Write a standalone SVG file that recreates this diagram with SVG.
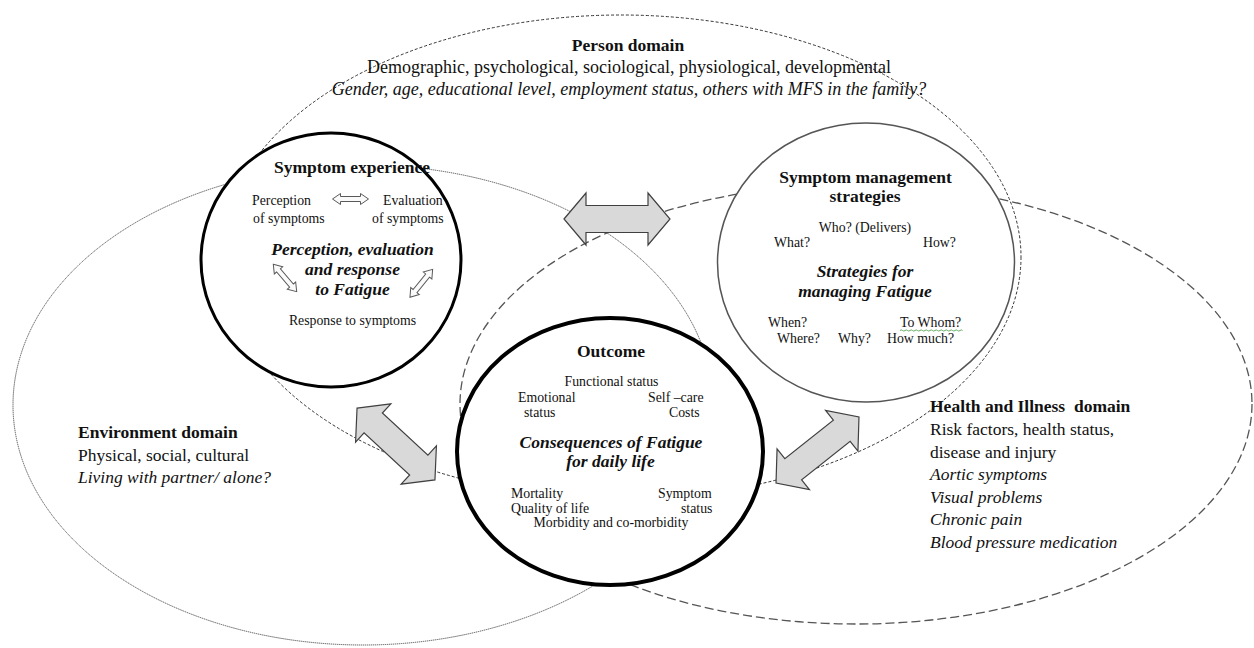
<svg xmlns="http://www.w3.org/2000/svg" width="1254" height="648" viewBox="0 0 1254 648">
<style>
text { font-family: "Liberation Serif", "Times New Roman", serif; fill: #111; }
.t { font-size: 17.5px; font-weight: bold; }
.bi { font-size: 17.5px; font-weight: bold; font-style: italic; }
.s { font-size: 13.8px; }
.d { font-size: 17.5px; }
.di { font-size: 17.5px; font-style: italic; }
.p { font-size: 18px; }
.pi { font-size: 18px; font-style: italic; }
.m { text-anchor: middle; }
.dom { fill: none; }
.big { fill: #d9d9d9; stroke: #404040; stroke-width: 1.2; }
.small { fill: #fafafa; stroke: #5a5a5a; stroke-width: 1; }
</style>
<defs>
<polygon id="bigArrow" points="-53,0 -31,-26 -31,-13.5 31,-13.5 31,-26 53,0 31,26 31,13.5 -31,13.5 -31,26"/>
<polygon id="smallArrow" points="-18,0 -10,-5.5 -10,-2.5 10,-2.5 10,-5.5 18,0 10,5.5 10,2.5 -10,2.5 -10,5.5"/>
</defs>
<rect width="1254" height="648" fill="#ffffff"/>

<g id="domains">
<ellipse id="environment-domain-line" class="dom" cx="363" cy="405" rx="350" ry="240" stroke="#555" stroke-width="1" stroke-dasharray="1.3 0.7"/>
<ellipse id="person-domain-line" class="dom" cx="621" cy="257" rx="400" ry="242" stroke="#333" stroke-width="1" stroke-dasharray="3 2"/>
<ellipse id="health-domain-line" class="dom" cx="856" cy="404" rx="396" ry="220" stroke="#555" stroke-width="1.3" stroke-dasharray="9 4"/>
</g>

<g id="person-domain">
<text class="t m" x="628" y="51">Person domain</text>
<text class="p m" x="629" y="73">Demographic, psychological, sociological, physiological, developmental</text>
<text class="pi m" x="629" y="95">Gender, age, educational level, employment status, others with MFS in the family?</text>
</g>

<g id="environment-domain">
<text class="t" x="78" y="438">Environment domain</text>
<text class="d" x="78" y="461">Physical, social, cultural</text>
<text class="di" x="78" y="483">Living with partner/ alone?</text>
</g>

<g id="health-domain">
<text class="t" x="930" y="412" xml:space="preserve">Health and Illness  domain</text>
<text class="d" x="930" y="435">Risk factors, health status,</text>
<text class="d" x="930" y="458">disease and injury</text>
<text class="di" x="930" y="480">Aortic symptoms</text>
<text class="di" x="930" y="503">Visual problems</text>
<text class="di" x="930" y="525">Chronic pain</text>
<text class="di" x="930" y="548">Blood pressure medication</text>
</g>

<g id="symptom-experience">
<ellipse cx="331" cy="260" rx="130" ry="127" fill="#fff" stroke="#000" stroke-width="3"/>
<text class="t m" x="352" y="173">Symptom experience</text>
<text class="s" x="252" y="205">Perception</text>
<text class="s" x="253" y="223">of symptoms</text>
<text class="s" x="383" y="205">Evaluation</text>
<text class="s" x="372" y="223">of symptoms</text>
<text class="bi m" x="352.5" y="255">Perception, evaluation</text>
<text class="bi m" x="352.5" y="275">and response</text>
<text class="bi m" x="352.5" y="295">to Fatigue</text>
<text class="s m" x="352.5" y="325">Response to symptoms</text>
<use href="#smallArrow" class="small" transform="translate(350.5,199)"/>
<use href="#smallArrow" class="small" transform="translate(285,278) rotate(49.5)"/>
<use href="#smallArrow" class="small" transform="translate(421.3,283.3) rotate(-51)"/>
</g>

<g id="symptom-management">
<ellipse cx="866" cy="262.5" rx="148.5" ry="139.5" fill="#fff" stroke="#555" stroke-width="1.5"/>
<text class="t m" x="865.5" y="183">Symptom management</text>
<text class="t m" x="865" y="202">strategies</text>
<text class="s m" x="865" y="232">Who? (Delivers)</text>
<text class="s" x="774" y="247">What?</text>
<text class="s" x="923" y="247">How?</text>
<text class="bi m" x="865" y="277">Strategies for</text>
<text class="bi m" x="865" y="297">managing Fatigue</text>
<text class="s" x="768" y="327">When?</text>
<text class="s" x="900" y="327">To Whom?</text>
<path d="M900,330.5 q1.25,-1.2 2.5,0 t2.5,0 t2.5,0 t2.5,0 t2.5,0 t2.5,0 t2.5,0 t2.5,0 t2.5,0 t2.5,0 t2.5,0 t2.5,0 t2.5,0 t2.5,0 t2.5,0 t2.5,0 t2.5,0 t2.5,0 t2.5,0 t2.5,0 t2.5,0 t2.5,0 t2.5,0 t2.5,0 t2.5,0" fill="none" stroke="#3c9a3c" stroke-width="0.8"/>
<text class="s" x="777" y="343">Where?</text>
<text class="s" x="838" y="343">Why?</text>
<text class="s" x="887" y="343">How much?</text>
</g>

<g id="outcome">
<ellipse cx="610" cy="451.5" rx="153" ry="133.5" fill="#fff" stroke="#000" stroke-width="4"/>
<text class="t m" x="611" y="357">Outcome</text>
<text class="s m" x="611.5" y="386">Functional status</text>
<text class="s" x="518" y="402">Emotional</text>
<text class="s" x="524" y="417">status</text>
<text class="s" x="648" y="402">Self –care</text>
<text class="s" x="669" y="417">Costs</text>
<text class="bi m" x="611" y="448">Consequences of Fatigue</text>
<text class="bi m" x="610.5" y="467">for daily life</text>
<text class="s" x="511" y="498">Mortality</text>
<text class="s" x="658" y="498">Symptom</text>
<text class="s" x="511" y="513">Quality of life</text>
<text class="s" x="681" y="513">status</text>
<text class="s m" x="611" y="527">Morbidity and co-morbidity</text>
</g>

<g id="connectors">
<use href="#bigArrow" class="big" transform="translate(617,219)"/>
<use href="#bigArrow" class="big" transform="translate(396,444) rotate(42.7)"/>
<use href="#bigArrow" class="big" transform="translate(817.5,450) rotate(-38.5)"/>
</g>
</svg>
